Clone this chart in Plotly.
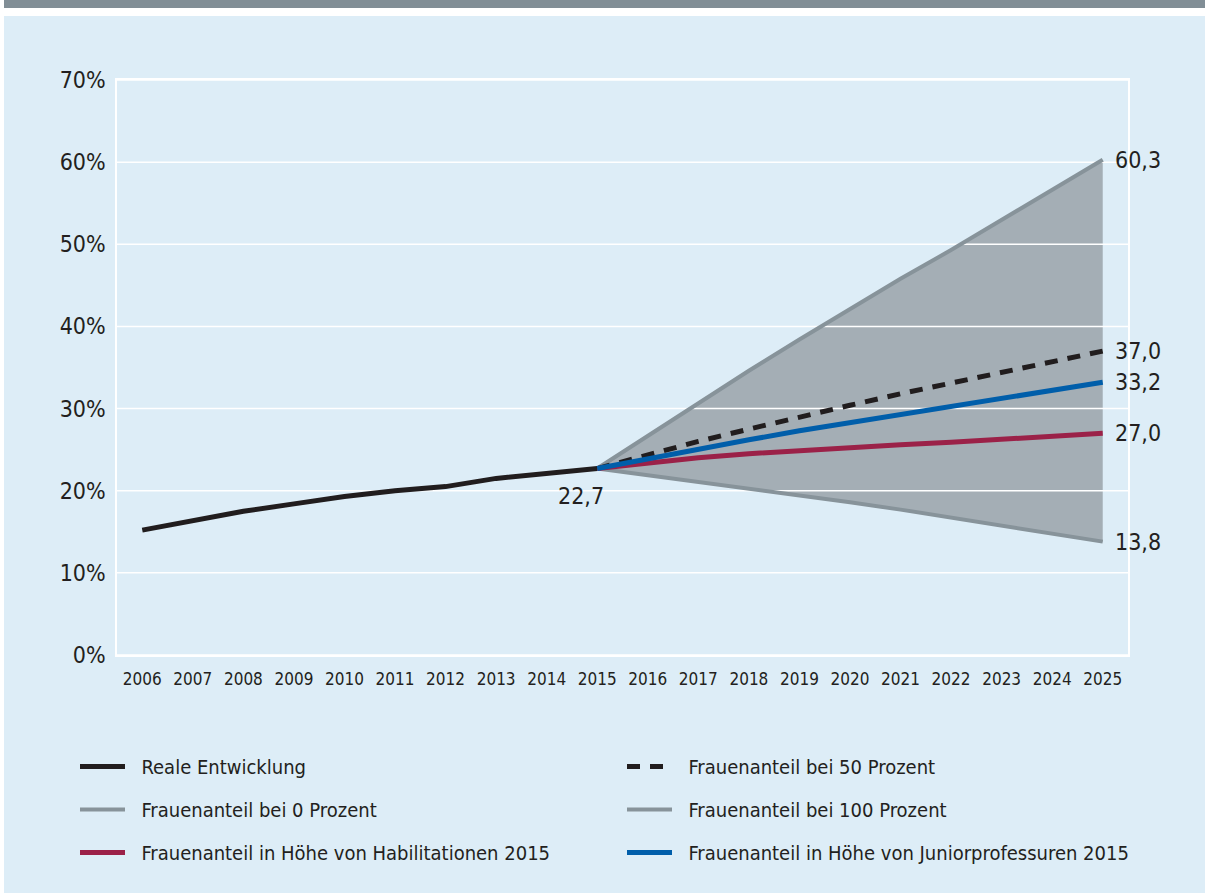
import plotly.graph_objects as go

# ---- data -------------------------------------------------------------
years_real = [2006, 2007, 2008, 2009, 2010, 2011, 2012, 2013, 2014, 2015]
real_share = [15.2, 16.3, 17.5, 18.4, 19.3, 20.0, 20.5, 21.5, 22.1, 22.7]

years_proj = [2015, 2016, 2017, 2018, 2019, 2020, 2021, 2022, 2023, 2024, 2025]
share_0 = [22.7, 21.9, 21.1, 20.3, 19.5, 18.6, 17.7, 16.7, 15.7, 14.8, 13.8]
share_100 = [22.7, 26.7, 30.7, 34.6, 38.4, 42.1, 45.8, 49.3, 53.0, 56.7, 60.3]
share_50 = [22.7, 24.4, 26.0, 27.5, 29.0, 30.4, 31.8, 33.1, 34.5, 35.8, 37.0]
share_habil = [22.7, 23.4, 24.0, 24.5, 24.9, 25.3, 25.6, 25.9, 26.3, 26.7, 27.0]
share_junior = [22.7, 23.9, 25.1, 26.2, 27.3, 28.3, 29.3, 30.3, 31.3, 32.3, 33.2]

x_ticks = list(range(2006, 2026))
y_ticks = [0, 10, 20, 30, 40, 50, 60, 70]

labels = {
    "real": "Reale Entwicklung",
    "p50": "Frauenanteil bei 50 Prozent",
    "p0": "Frauenanteil bei 0 Prozent",
    "p100": "Frauenanteil bei 100 Prozent",
    "habil": "Frauenanteil in Höhe von Habilitationen 2015",
    "junior": "Frauenanteil in Höhe von Juniorprofessuren 2015",
}

# ---- styling ----------------------------------------------------------
W, H = 1205, 893
PL, PR, PT, PB = 117, 1128, 80, 655   # plot area in pixels

PANEL = "#ddedf7"
BAND = "#818e96"
TEXT = "#231f20"
BLACK = "#211d1e"
GREY_LINE = "#87939a"
GREY_FILL = "#a4aeb5"
BLUE = "#005eaa"
RED = "#9b2148"
FONT = "Liberation Sans Narrow, DejaVu Sans Condensed, Arial Narrow, sans-serif"
GAP = "\u00a0\u00a0"   # spacing between legend swatch and its text


def px_x(px):
    return (px - PL) / (PR - PL)


def px_y(py):
    return (PB - py) / (PB - PT)


fig = go.Figure()

# shaded corridor between the 0 % and 100 % scenarios
fig.add_trace(go.Scatter(x=years_proj, y=share_0, mode="lines",
                         line=dict(width=0, color=GREY_FILL),
                         showlegend=False, hoverinfo="skip"))
fig.add_trace(go.Scatter(x=years_proj, y=share_100, mode="lines",
                         line=dict(width=0, color=GREY_FILL),
                         fill="tonexty", fillcolor=GREY_FILL,
                         showlegend=False, hoverinfo="skip"))

# white grid lines, kept on top of the shaded corridor
gx, gy = [], []
for v in y_ticks:
    gx += [x_ticks[0] - 0.5, x_ticks[-1] + 0.5, None]
    gy += [v, v, None]
fig.add_trace(go.Scatter(x=gx, y=gy, mode="lines",
                         line=dict(width=1.5, color="white"),
                         showlegend=False, hoverinfo="skip"))

# scenario lines
fig.add_trace(go.Scatter(x=years_proj, y=share_0, mode="lines", name=GAP + labels["p0"],
                         line=dict(width=4, color=GREY_LINE),
                         legend="legend", legendgroup="p0", legendrank=2))
fig.add_trace(go.Scatter(x=years_proj, y=share_100, mode="lines", name=GAP + labels["p100"],
                         line=dict(width=4, color=GREY_LINE),
                         legend="legend2", legendgroup="p100", legendrank=2))
fig.add_trace(go.Scatter(x=years_real, y=real_share, mode="lines", name=GAP + labels["real"],
                         line=dict(width=5, color=BLACK),
                         legend="legend", legendgroup="real", legendrank=1))
fig.add_trace(go.Scatter(x=years_proj, y=share_50, mode="lines", name=GAP + labels["p50"],
                         line=dict(width=5, color=BLACK, dash="13px,10px"),
                         legend="legend2", legendgroup="p50", legendrank=1))
fig.add_trace(go.Scatter(x=years_proj, y=share_habil, mode="lines", name=GAP + labels["habil"],
                         line=dict(width=5, color=RED),
                         legend="legend", legendgroup="habil", legendrank=3))
fig.add_trace(go.Scatter(x=years_proj, y=share_junior, mode="lines", name=GAP + labels["junior"],
                         line=dict(width=5, color=BLUE),
                         legend="legend2", legendgroup="junior", legendrank=3))

# end-point value labels
fmt = lambda v: f"{v:.1f}".replace(".", ",")
for series in (share_100, share_50, share_junior, share_habil, share_0):
    fig.add_annotation(x=years_proj[-1], y=series[-1], text=fmt(series[-1]),
                       showarrow=False, xanchor="left", yanchor="middle", xshift=10,
                       font=dict(family=FONT, size=23, color=TEXT))
fig.add_annotation(x=years_real[-1], y=real_share[-1], text=fmt(real_share[-1]),
                   showarrow=False, xanchor="right", yanchor="top", xshift=9, yshift=-12,
                   font=dict(family=FONT, size=23, color=TEXT))

# page decoration: white margin and grey top band
shapes = [
    dict(type="rect", xref="paper", yref="paper", x0=px_x(0), x1=px_x(4),
         y0=px_y(H), y1=px_y(0), fillcolor="white", line=dict(width=0), layer="below"),
    dict(type="rect", xref="paper", yref="paper", x0=px_x(0), x1=px_x(W),
         y0=px_y(16), y1=px_y(0), fillcolor="white", line=dict(width=0), layer="below"),
    dict(type="rect", xref="paper", yref="paper", x0=px_x(4), x1=px_x(W),
         y0=px_y(8), y1=px_y(0), fillcolor=BAND, line=dict(width=0), layer="below"),
]

legend_common = dict(
    orientation="v", traceorder="grouped", tracegroupgap=14,
    bgcolor="rgba(0,0,0,0)", borderwidth=0, itemwidth=45,
    font=dict(family=FONT, size=20, color=TEXT),
    xanchor="left", yanchor="top", itemclick=False, itemdoubleclick=False,
)

fig.update_layout(
    width=W, height=H,
    margin=dict(l=PL, r=W - PR, t=PT, b=H - PB, pad=0),
    paper_bgcolor=PANEL, plot_bgcolor=PANEL,
    font=dict(family=FONT, color=TEXT),
    shapes=shapes,
    showlegend=True,
    legend=dict(legend_common, x=px_x(75), y=px_y(747)),
    legend2=dict(legend_common, x=px_x(622), y=px_y(747)),
    xaxis=dict(range=[x_ticks[0] - 0.5, x_ticks[-1] + 0.5],
               tickmode="array", tickvals=x_ticks, ticktext=[str(v) for v in x_ticks],
               showgrid=False, zeroline=False, showline=True, linecolor="white",
               linewidth=1.5, mirror=True, ticks="", ticklabelstandoff=8,
               tickfont=dict(family=FONT, size=17, color=TEXT)),
    yaxis=dict(range=[0, 70], tickmode="array", tickvals=y_ticks,
               ticktext=[f"{v}%" for v in y_ticks],
               showgrid=False, zeroline=False, showline=True, linecolor="white",
               linewidth=1.5, mirror=True, ticks="", ticklabelstandoff=5,
               tickfont=dict(family=FONT, size=23, color=TEXT)),
)

fig.write_html("out.html")
